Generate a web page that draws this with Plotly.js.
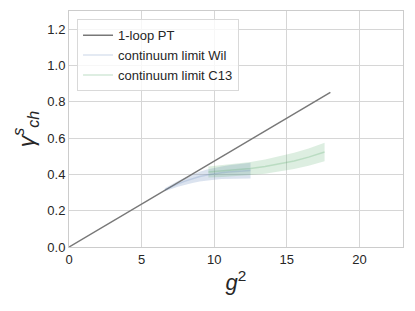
<!DOCTYPE html>
<html><head><meta charset="utf-8">
<script src="https://cdn.plot.ly/plotly-3.0.1.min.js"></script>
<style>html,body{margin:0;padding:0;background:#fff}#plot{width:415px;height:311px}</style>
</head><body><div id="plot"></div>
<script>
// 1-loop perturbation theory line
const ptX = [0, 18];
const ptY = [0, 0.852];

// continuum limit, Wilson
const wilX  = [6.6, 7.0, 7.5, 8.0, 8.5, 9.0, 9.5, 10.0, 10.5, 11.0, 11.5, 12.0, 12.5];
const wilMid = [0.315, 0.330, 0.348, 0.363, 0.377, 0.388, 0.397, 0.404, 0.409, 0.413, 0.416, 0.419, 0.421];
const wilLo = [0.307, 0.318, 0.332, 0.343, 0.353, 0.361, 0.367, 0.371, 0.374, 0.376, 0.377, 0.378, 0.378];
const wilHi = [0.323, 0.342, 0.364, 0.383, 0.401, 0.415, 0.427, 0.437, 0.444, 0.450, 0.455, 0.460, 0.464];

// continuum limit, C13
const c13X  = [9.6, 10.5, 11.5, 12.5, 13.5, 14.5, 15.5, 16.5, 17.6];
const c13Mid = [0.413, 0.418, 0.424, 0.432, 0.443, 0.457, 0.474, 0.495, 0.523];
const c13Lo = [0.383, 0.386, 0.390, 0.396, 0.404, 0.415, 0.429, 0.447, 0.472];
const c13Hi = [0.443, 0.450, 0.458, 0.468, 0.482, 0.499, 0.519, 0.543, 0.574];

const xTicks = [0, 5, 10, 15, 20];
const yTicks = [0.0, 0.2, 0.4, 0.6, 0.8, 1.0, 1.2];
const yTickText = yTicks.map(v => v.toFixed(1));

function band(x, lo, hi, color) {
  return {
    x: x.concat(x.slice().reverse()),
    y: hi.concat(lo.slice().reverse()),
    type: 'scatter', mode: 'lines', fill: 'toself',
    fillcolor: color, line: {width: 0}, showlegend: false, hoverinfo: 'skip'
  };
}

const traces = [
  band(wilX, wilLo, wilHi, 'rgba(76,114,176,0.2)'),
  band(c13X, c13Lo, c13Hi, 'rgba(85,168,104,0.2)'),
  {x: ptX, y: ptY, type: 'scatter', mode: 'lines', name: '1-loop PT',
   line: {color: 'rgb(120,120,120)', width: 1.5}},
  {x: wilX, y: wilMid, type: 'scatter', mode: 'lines', name: 'continuum limit Wil',
   line: {color: 'rgba(76,114,176,0.2)', width: 1.5}},
  {x: c13X, y: c13Mid, type: 'scatter', mode: 'lines', name: 'continuum limit C13',
   line: {color: 'rgba(85,168,104,0.25)', width: 1.5}}
];

const layout = {
  width: 415, height: 311,
  margin: {l: 69, r: 12, t: 11, b: 64},
  paper_bgcolor: '#fff', plot_bgcolor: '#fff',
  font: {family: 'Liberation Sans, Arial, sans-serif', size: 13, color: '#262626'},
  showlegend: true,
  legend: {x: 0.024, y: 0.965, xanchor: 'left', yanchor: 'top',
           bgcolor: 'rgba(255,255,255,0.8)', bordercolor: '#d9d9d9', borderwidth: 1,
           font: {size: 13, color: '#262626'}, tracegroupgap: 0},
  xaxis: {range: [0, 23], tickvals: xTicks, ticktext: xTicks.map(String),
          showgrid: true, gridcolor: '#d6d6d6', gridwidth: 1, zeroline: false,
          showline: true, linecolor: '#cccccc', linewidth: 1, mirror: true,
          ticks: '', ticklen: 0, tickfont: {size: 13},
          title: {text: '<i>g</i><sup>2</sup>', font: {size: 22, color: '#262626'}, standoff: 9}},
  yaxis: {range: [0, 1.3], tickvals: yTicks, ticktext: yTickText,
          showgrid: true, gridcolor: '#d6d6d6', gridwidth: 1, zeroline: false,
          showline: true, linecolor: '#cccccc', linewidth: 1, mirror: true,
          ticks: '', ticklen: 0, tickfont: {size: 13},
          title: {text: '<i>γ</i><sup><i>s</i></sup><sub><i>ch</i></sub>', font: {size: 23, color: '#262626'}, standoff: 6}}
};

Plotly.newPlot('plot', traces, layout, {staticPlot: true, displayModeBar: false});
</script>
</body></html>
